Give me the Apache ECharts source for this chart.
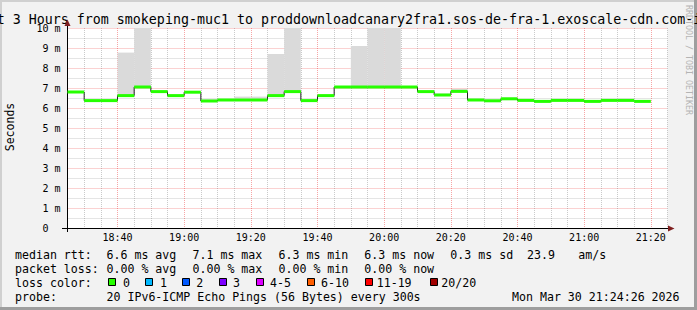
<!DOCTYPE html>
<html><head><meta charset="utf-8">
<script src="https://cdn.jsdelivr.net/npm/echarts@6/dist/echarts.min.js"></script>
<style>html,body{margin:0;padding:0;background:#f2f2f2}#c{width:697px;height:310px}</style>
</head><body><div id="c"></div>
<script>
// ---- data ----
const stepStarts = ['18:25','18:30','18:35','18:40','18:45','18:50','18:55','19:00','19:05','19:10','19:15','19:20','19:25','19:30','19:35','19:40','19:45','19:50','19:55','20:00','20:05','20:10','20:15','20:20','20:25','20:30','20:35','20:40','20:45','20:50','20:55','21:00','21:05','21:10','21:15'];
const medianMs = [6.80,6.37,6.37,6.62,7.05,6.82,6.62,6.79,6.35,6.40,6.40,6.40,6.62,6.82,6.37,6.62,7.05,7.05,7.05,7.05,7.05,6.82,6.65,6.83,6.40,6.36,6.46,6.38,6.33,6.38,6.38,6.33,6.38,6.38,6.33];
const smokeMaxMs = [6.80,6.37,6.37,8.77,10.4,6.82,6.62,6.79,6.44,6.40,6.57,6.57,8.70,10.4,6.37,6.62,7.05,9.10,10.4,10.4,7.05,6.82,6.72,6.95,6.48,6.43,6.52,6.38,6.33,6.38,6.38,6.33,6.38,6.48,6.33];
const xStart = '18:25', xEnd = '21:25';
const yTickUnit = ' m';
const titleText = 'Last 3 Hours from smokeping-muc1 to proddownloadcanary2fra1.sos-de-fra-1.exoscale-cdn.com-ipv6';
const rttLabel = 'median rtt:';
const rttStats = ['6.6 ms avg','7.1 ms max','6.3 ms min','6.3 ms now','0.3 ms sd','23.9','am/s'];
const lossLabel = 'packet loss:';
const lossStats = ['0.00 % avg','0.00 % max','0.00 % min','0.00 % now'];
const lossColorLabel = 'loss color:';
const lossBuckets = ['0','1','2','3','4-5','6-10','11-19','20/20'];
const lossColors = ['#26ff00','#00b8ff','#0059ff','#7e00ff','#dd00ff','#ff5e00','#ff0000','#a10000'];
const probeLabel = 'probe:';
const probeText = '20 IPv6-ICMP Echo Pings (56 Bytes) every 300s';
const dateText = 'Mon Mar 30 21:24:26 2026';
const STEP = 5; // rrd step, minutes

// ---- helpers ----
const toMin = s => { const [h,m] = s.split(':').map(Number); return h*60+m; };
const fmt = v => { const h = Math.floor(v/60), m = v%60; return (h<10?'0':'')+h+':'+(m<10?'0':'')+m; };
const MONO = "'DejaVu Sans Mono', monospace";
const MAJ = 'rgba(235,40,40,0.42)', MIN = 'rgba(128,128,128,0.42)';

const chart = echarts.init(document.getElementById('c'), null, {renderer:'svg'});

function clipRect(r, cs){
  return echarts.graphic.clipRectByRect(r, {x:cs.x, y:cs.y, width:cs.width, height:cs.height});
}
function smokeItem(params, api){
  const x0 = api.value(0), lo = api.value(1), hi = api.value(2);
  if (hi <= lo) return null;
  const p0 = api.coord([x0, hi]), p1 = api.coord([x0 + STEP, lo]);
  const shape = clipRect({x:p0[0], y:p0[1], width:p1[0]-p0[0], height:p1[1]-p0[1]}, params.coordSys);
  return shape && {type:'rect', shape, style:{fill:'#dadada'}};
}
function bandItem(params, api){
  const x0 = api.value(0), v = api.value(1);
  const p0 = api.coord([x0, v]), p1 = api.coord([x0 + STEP, v]);
  const shape = clipRect({x:p0[0], y:p0[1]-1.5, width:p1[0]-p0[0], height:3}, params.coordSys);
  return shape && {type:'rect', shape, style:{fill:lossColors[0]}};
}

const steps = stepStarts.map((t,i) => [toMin(t), medianMs[i], smokeMaxMs[i]]);

// legend/graphics
const G = [];
const txt = (x,y,text,extra) => G.push(Object.assign({type:'text', x, y, silent:true,
  style:Object.assign({text, fontFamily:MONO, fontSize:11.6, fill:'#000', align:'left', verticalAlign:'middle'}, extra||{})}));
// frame
G.push({type:'rect', shape:{x:0,y:0,width:697,height:2}, style:{fill:'#d0d0d0'}, silent:true});
G.push({type:'rect', shape:{x:0,y:0,width:2,height:310}, style:{fill:'#d0d0d0'}, silent:true});
G.push({type:'rect', shape:{x:694,y:0,width:3,height:310}, style:{fill:'#9e9e9e'}, silent:true});
G.push({type:'rect', shape:{x:0,y:307,width:697,height:3}, style:{fill:'#9e9e9e'}, silent:true});
// watermark
G.push({type:'text', x:688.6, y:60, rotation:-Math.PI/2, silent:true,
  style:{text:'RRDTOOL / TOBI OETIKER', fontFamily:MONO, fontSize:8.3, fill:'#b4b4b4', align:'center', verticalAlign:'middle'}});
// title
G.push({type:'text', x:349, y:19, silent:true,
  style:{text:titleText, fontFamily:MONO, fontSize:13.3, fill:'#000', align:'center', verticalAlign:'middle'}});
// y axis name
G.push({type:'text', x:10, y:127, rotation:Math.PI/2, silent:true,
  style:{text:'Seconds', fontFamily:MONO, fontSize:11.5, fill:'#000', align:'center', verticalAlign:'middle'}});
// axis extensions & arrows
G.push({type:'line', shape:{x1:62,y1:228.5,x2:67.5,y2:228.5}, style:{stroke:'#000',lineWidth:1}, silent:true});
G.push({type:'line', shape:{x1:67.5,y1:228,x2:67.5,y2:232}, style:{stroke:'#000',lineWidth:1}, silent:true});
G.push({type:'line', shape:{x1:67.5,y1:28,x2:67.5,y2:24}, style:{stroke:'#000',lineWidth:1}, silent:true});
G.push({type:'line', shape:{x1:667,y1:228.5,x2:669,y2:228.5}, style:{stroke:'#000',lineWidth:1}, silent:true});
G.push({type:'polygon', shape:{points:[[64.5,26],[70.5,26],[67.5,19.5]]}, style:{fill:'#7f1f1f'}, silent:true});
G.push({type:'polygon', shape:{points:[[668,225.5],[668,231.5],[674.5,228.5]]}, style:{fill:'#7f1f1f'}, silent:true});
// legend rows
const colX = [106.5,192.5,278.5,364.3,450.3,527,578.3];
txt(15,254.5,rttLabel);
rttStats.forEach((s,i)=>txt(colX[i],254.5,s));
txt(15,268.5,lossLabel);
lossStats.forEach((s,i)=>txt(colX[i],268.5,s));
txt(15,282.5,lossColorLabel);
const boxX = [108.5,145.5,182.5,219.5,256.5,307.5,365.5,430.5];
const lblX = [123,160,196.3,233,270,321,376.7,441.3];
lossBuckets.forEach((b,i)=>{
  G.push({type:'rect', shape:{x:boxX[i], y:278.5, width:7, height:7}, style:{fill:lossColors[i], stroke:'#000', lineWidth:1}, silent:true});
  txt(lblX[i],282.5,b);
});
txt(15,296.5,probeLabel);
txt(106.5,296.5,probeText);
txt(512,296.5,dateText);

chart.setOption({
  animation:false,
  backgroundColor:'#f2f2f2',
  grid:{left:67.5, top:28, width:600, height:200, show:true, backgroundColor:'#ffffff', borderWidth:0},
  xAxis:{type:'value', min:toMin(xStart), max:toMin(xEnd), interval:5,
    axisLine:{show:true, onZero:false, lineStyle:{color:'#000', width:1}},
    axisTick:{show:false},
    axisLabel:{formatter:v => (v%20===0 ? fmt(v) : ''), fontFamily:MONO, fontSize:10, color:'#000', margin:4, showMinLabel:true, showMaxLabel:true},
    splitLine:{show:true, lineStyle:{color:[MIN,MIN,MIN,MAJ], type:[1,1], width:1}}},
  yAxis:{type:'value', min:0, max:10, interval:1,
    axisLine:{show:true, lineStyle:{color:'#000', width:1}},
    axisTick:{show:false},
    axisLabel:{formatter:v => (v===0 ? '0\u00a0\u00a0' : v + yTickUnit), fontFamily:MONO, fontSize:10, color:'#000', margin:7},
    splitLine:{show:true, lineStyle:{color:MAJ, type:[1,1], width:1}},
    minorTick:{show:false, splitNumber:2},
    minorSplitLine:{show:true, lineStyle:{color:MIN, type:[1,1], width:1}}},
  series:[
    {type:'custom', name:'smoke', data:steps, renderItem:smokeItem, encode:{x:0, y:[1,2]}, z:1, silent:true},
    {type:'line', name:'median', data:steps.map(s=>[s[0], s[1]]), step:'end', symbol:'none',
      lineStyle:{color:'#202020', width:1}, z:3, silent:true},
    {type:'custom', name:'loss0', data:steps, renderItem:bandItem, encode:{x:0, y:1}, z:4, silent:true}
  ],
  graphic:G
});
</script></body></html>
